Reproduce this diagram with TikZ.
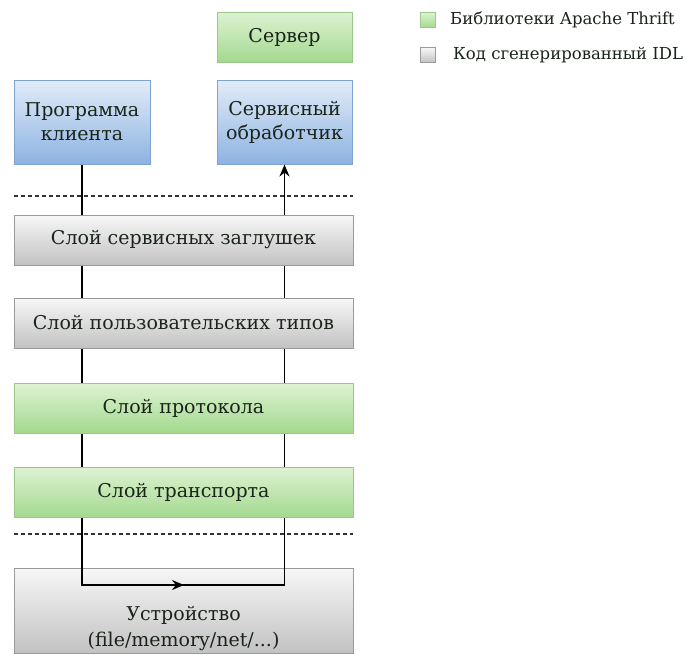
\documentclass[tikz,border=0pt]{standalone}
\usepackage{fontspec}
\setmainfont{DejaVu Serif}
\usetikzlibrary{arrows.meta}
\pgfdeclarelayer{front}
\pgfsetlayers{main,front}
\definecolor{gtop}{HTML}{DDF2D2}
\definecolor{gbot}{HTML}{A3D98E}
\definecolor{gline}{HTML}{9CC78B}
\definecolor{btop}{HTML}{E2ECF8}
\definecolor{bbot}{HTML}{8DB3E2}
\definecolor{bline}{HTML}{7FA3CF}
\definecolor{stop}{HTML}{F7F7F7}
\definecolor{sbot}{HTML}{C2C2C2}
\definecolor{sline}{HTML}{9A9A9A}
\definecolor{ink}{HTML}{1A241A}
\tikzset{
  box/.style={rectangle, line width=1pt, inner sep=0pt, font=\fontsize{19}{24}\selectfont,
              text=ink, align=center},
  libbox/.style={box, draw=gline, top color=gtop, bottom color=gbot},
  userbox/.style={box, draw=bline, top color=btop, bottom color=bbot},
  genbox/.style={box, draw=sline, top color=stop, bottom color=sbot},
  wire/.style={line width=1.6pt, black},
  sep/.style={line width=1.2pt, black!80, dash pattern=on 4pt off 3pt},
  legendtext/.style={anchor=west, font=\fontsize{16.5}{20}\selectfont, text=ink, inner sep=0pt},
}
\begin{document}
\begin{tikzpicture}[x=1pt,y=-1pt]
  \useasboundingbox (0,0) rectangle (696,654);

  % top row: server, client program, service handler
  \node[libbox, minimum width=135pt, minimum height=50pt] (server) at (284.5,37) {Сервер};
  \node[userbox, minimum width=136pt, minimum height=84pt] (client) at (82,122) {Программа\\клиента};
  \node[userbox, minimum width=135pt, minimum height=84pt] (handler) at (284.5,122) {Сервисный\\обработчик};

  % device at the bottom, drawn below the data path
  \node[genbox, minimum width=339pt, minimum height=85pt] (device) at (183.5,610.5) {};
  \node[box, anchor=base] (deviceName) at (183.5,620) {Устройство};
  \node[box, anchor=base] (deviceKinds) at (183.5,646) {(file/memory/net/...)};

  % stacked layers, drawn above the data path
  \begin{pgfonlayer}{front}
    \node[genbox, minimum width=339pt, minimum height=50pt] (stubs) at (183.5,240) {Слой сервисных заглушек};
    \node[genbox, minimum width=339pt, minimum height=50pt] (types) at (183.5,323) {Слой пользовательских типов};
    \node[libbox, minimum width=339pt, minimum height=50pt] (proto) at (183.5,408) {Слой протокола};
    \node[libbox, minimum width=339pt, minimum height=50pt] (trans) at (183.5,492.5) {Слой транспорта};
  \end{pgfonlayer}

  % dashed separators
  \coordinate (sepAl) at (14,196);
  \coordinate (sepAr) at (353,196);
  \coordinate (sepBl) at (14,534);
  \coordinate (sepBr) at (353,534);
  \draw[sep] (sepAl) -- (sepAr);
  \draw[sep] (sepBl) -- (sepBr);

  % data path from the client down to the device and back up to the handler
  \coordinate (turnL) at (client.south |- 0,585);
  \coordinate (turnR) at (handler.south |- 0,585);
  \coordinate (midArrow) at (184,585);
  \draw[wire, -{Stealth[length=12pt,width=10pt]}] (client.south) -- (turnL) -- (turnR) -- (handler.south);
  \draw[wire, -{Stealth[length=12pt,width=10pt]}] (turnL) -- (midArrow);

  % legend
  \node[rectangle, draw=gline, line width=0.8pt, top color=gtop, bottom color=gbot,
        minimum size=15pt, inner sep=0pt] (keyLib) at (427.5,20) {};
  \node[legendtext] (keyLibText) at (450,20) {Библиотеки Apache Thrift};
  \node[rectangle, draw=sline, line width=0.8pt, top color=stop, bottom color=sbot,
        minimum size=15pt, inner sep=0pt] (keyGen) at (427.5,55) {};
  \node[legendtext] (keyGenText) at (453,55) {Код сгенерированный IDL};
\end{tikzpicture}
\end{document}
